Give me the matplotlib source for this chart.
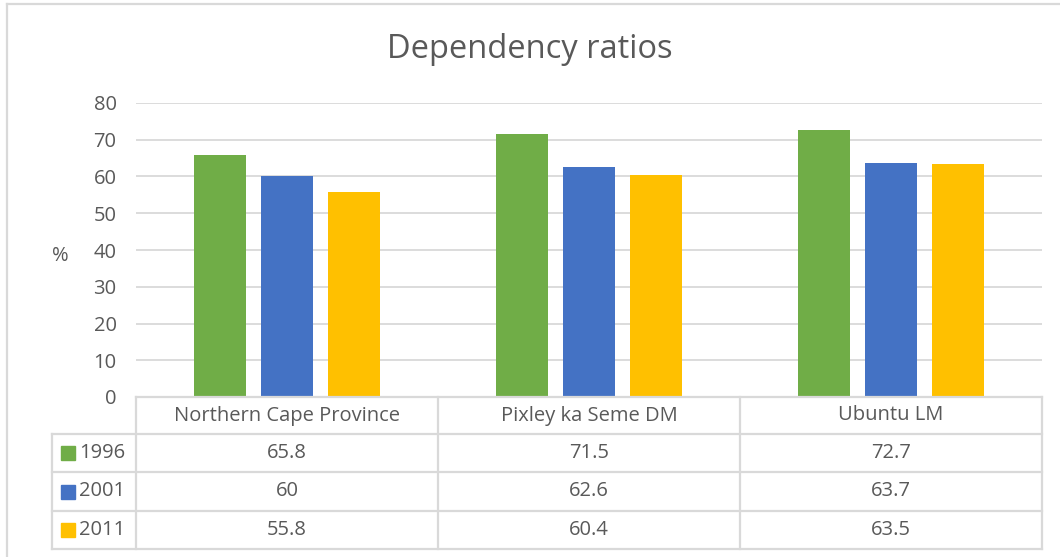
import matplotlib
matplotlib.use("Agg")
import matplotlib.pyplot as plt
import numpy as np

# --- data ---
categories = ["Northern Cape Province", "Pixley ka Seme DM", "Ubuntu LM"]
years = ["1996", "2001", "2011"]
vals_1996 = [65.8, 71.5, 72.7]
vals_2001 = [60, 62.6, 63.7]
vals_2011 = [55.8, 60.4, 63.5]
colors = ["#70AD47", "#4472C4", "#FFC000"]
y_ticks = [0, 10, 20, 30, 40, 50, 60, 70, 80]

series = [vals_1996, vals_2001, vals_2011]
TXT = "#595959"
GRID = "#D9D9D9"
FS = 14.5
plt.rcParams["font.family"] = ["Open Sans", "DejaVu Sans"]

W, H = 1060, 557
fig = plt.figure(figsize=(W / 100, H / 100), dpi=100)

# plot area in pixel coords
x0, x1 = 136, 1042
y_top, y_bot = 103, 397
ax = fig.add_axes([x0 / W, 1 - y_bot / H, (x1 - x0) / W, (y_bot - y_top) / H])

n = len(categories)
x = np.arange(n)
bw = 0.175
gap = 0.047
for i, (vals, c) in enumerate(zip(series, colors)):
    ax.bar(x + (i - 1) * (bw + gap), vals, width=bw, color=c, zorder=3)

ax.set_xlim(-0.5, n - 0.5)
ax.set_ylim(0, 80)
ax.set_yticks(y_ticks)
ax.set_xticks([])
ax.yaxis.grid(True, color=GRID, linewidth=1.3, zorder=0)
for s in ax.spines.values():
    s.set_visible(False)
ax.tick_params(axis="y", length=0, labelsize=FS, colors=TXT, pad=14)

fig.text(60 / W, 1 - 256 / H, "%", ha="center", va="center", fontsize=FS, color=TXT)
fig.text(0.5, 1 - 49 / H, "Dependency ratios", ha="center", va="center",
         fontsize=23.5, color=TXT)

# data table drawn in pixel coordinates
tab = fig.add_axes([0, 0, 1, 1])
tab.set_xlim(0, W)
tab.set_ylim(H, 0)
tab.axis("off")
lc = dict(color=GRID, linewidth=1.6)

row_y = [397, 434, 472, 511, 549]
left_x = 52
col_w = (x1 - x0) / n
col_x = [x0 + k * col_w for k in range(n + 1)]

# outer chart frame (left/top)
tab.plot([7, 7], [4, H], **lc)
tab.plot([7, W], [4, 4], **lc)

# horizontal lines
tab.plot([x0, x1], [row_y[0], row_y[0]], **lc)
for yy in row_y[1:]:
    tab.plot([left_x, x1], [yy, yy], **lc)
# vertical lines
tab.plot([left_x, left_x], [row_y[1], row_y[-1]], **lc)
for xx in col_x:
    tab.plot([xx, xx], [row_y[0], row_y[-1]], **lc)

for j, cat in enumerate(categories):
    tab.text((col_x[j] + col_x[j + 1]) / 2, (row_y[0] + row_y[1]) / 2, cat,
             ha="center", va="center", fontsize=FS, color=TXT)

for i, (yr, vals, c) in enumerate(zip(years, series, colors)):
    yc = (row_y[i + 1] + row_y[i + 2]) / 2
    tab.add_patch(plt.Rectangle((61, yc - 7), 14, 14, color=c))
    tab.text(79, yc, yr, ha="left", va="center", fontsize=FS, color=TXT)
    for j, v in enumerate(vals):
        tab.text((col_x[j] + col_x[j + 1]) / 2, yc, f"{v:g}",
                 ha="center", va="center", fontsize=FS, color=TXT)

fig.savefig("out.png", dpi=100)
